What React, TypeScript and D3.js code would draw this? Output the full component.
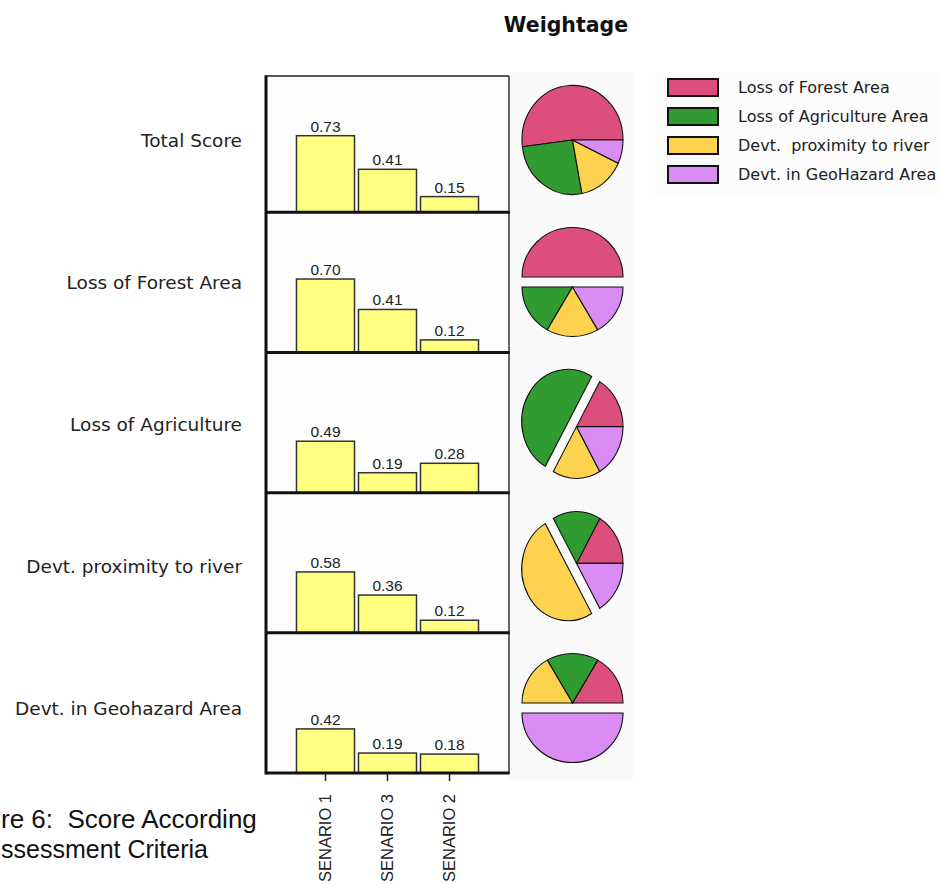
import React from "react";
import * as d3 from "d3";

// rows of the chart
const criteria = [
  "Total Score",
  "Loss of Forest Area",
  "Loss of Agriculture",
  "Devt. proximity to river",
  "Devt. in Geohazard Area",
];
const scenarios = ["SENARIO 1", "SENARIO 3", "SENARIO 2"];

// scores per scenario, one per row
const senario1 = [0.73, 0.7, 0.49, 0.58, 0.42];
const senario3 = [0.41, 0.41, 0.19, 0.36, 0.19];
const senario2 = [0.15, 0.12, 0.28, 0.12, 0.18];

// weights (pies)
const legendLabels = [
  "Loss of Forest Area",
  "Loss of Agriculture Area",
  "Devt.  proximity to river",
  "Devt. in GeoHazard Area",
];
const sliceColors = ["#dc4f7d", "#2f9b30", "#fdd24e", "#d98cf3"];
const totalWeights = [0.52, 0.26, 0.15, 0.07];
const forestWeights = [0.5, 1 / 6, 1 / 6, 1 / 6];
const agriWeights = [1 / 6, 0.5, 1 / 6, 1 / 6];
const riverWeights = [1 / 6, 1 / 6, 0.5, 1 / 6];
const geoWeights = [1 / 6, 1 / 6, 1 / 6, 0.5];
const explodedSlice = [-1, 0, 1, 2, 3];

const caption = ["re 6:  Score According", "ssessment Criteria"];

const sans = "'DejaVu Sans', Verdana, sans-serif";
const arial = "'Liberation Sans', Arial, sans-serif";

const pieRows = [totalWeights, forestWeights, agriWeights, riverWeights, geoWeights];
const scoreRows = criteria.map((c, i) => [senario1[i], senario3[i], senario2[i]]);

// pie laid out counter-clockwise from 3 o'clock, one slice pulled out
function layoutPie(values: number[], exploded: number) {
  const arcs = d3
    .pie<number>()
    .sort(null)
    .startAngle(Math.PI / 2)
    .endAngle(Math.PI / 2 - 2 * Math.PI)(values);
  const E = 0.2;
  let x0 = Infinity, x1 = -Infinity, y0 = Infinity, y1 = -Infinity;
  const slices = arcs.map((a, i) => {
    const m = (a.startAngle + a.endAngle) / 2;
    const off = i === exploded ? [E * Math.sin(m), -E * Math.cos(m)] : [0, 0];
    const pts: number[][] = [[0, 0]];
    for (let k = 0; k <= 60; k++) {
      const ang = a.startAngle + ((a.endAngle - a.startAngle) * k) / 60;
      pts.push([Math.sin(ang), -Math.cos(ang)]);
    }
    pts.forEach(([px, py]) => {
      x0 = Math.min(x0, px + off[0]);
      x1 = Math.max(x1, px + off[0]);
      y0 = Math.min(y0, py + off[1]);
      y1 = Math.max(y1, py + off[1]);
    });
    return { a, off, i };
  });
  return { slices, x0, x1, y0, y1 };
}

const arcGen = d3.arc<any>().innerRadius(0).outerRadius(1);

export default function App() {
  const width = 940;
  const height = 885;

  const plotLeft = 266;
  const plotRight = 509;
  const plotTop = 76;
  const plotBottom = 773;

  const rows = d3.scaleBand<string>().domain(criteria).range([72.2, plotBottom]);
  const labelRows = d3.scaleBand<string>().domain(criteria).range([69, 779]);
  const x = d3
    .scaleBand<string>()
    .domain(scenarios)
    .range([294.5, 480.5])
    .paddingInner(0.0645)
    .paddingOuter(0.032);
  const h = d3.scaleLinear().domain([0, 1]).range([0, 105]);
  const fmt = d3.format(".2f");

  const pieW = 101;
  const pieH = 109;
  const pieCx = 572.5;

  const legendY = d3.scaleBand<string>().domain(legendLabels).range([74, 190]);

  return (
    <svg
      width={width}
      height={height}
      style={{ position: "absolute", left: 0, top: 0, background: "#fff" }}
    >
      <rect x={0} y={0} width={width} height={height} fill="#fff" />

      {/* faint panels behind plot, pies and legend */}
      <rect x={plotLeft} y={plotTop} width={plotRight - plotLeft} height={plotBottom - plotTop} fill="#fdfdfd" />
      <rect x={plotRight} y={72} width={124} height={708} fill="#fafafa" />
      <rect x={655} y={72} width={285} height={122} fill="#fcfcfc" />

      <text
        x={566}
        y={31.5}
        textAnchor="middle"
        fontFamily={sans}
        fontWeight="bold"
        fontSize={20.5}
        fill="#111"
      >
        Weightage
      </text>

      {/* row labels */}
      {criteria.map((c) => (
        <text
          key={c}
          x={242}
          y={(labelRows(c) as number) + labelRows.bandwidth() / 2 + 6.5}
          textAnchor="end"
          fontFamily={sans}
          fontSize={18.5}
          fill="#222"
        >
          {c}
        </text>
      ))}

      {/* bars */}
      {criteria.map((c, r) => {
        const base = (rows(c) as number) + rows.bandwidth();
        return (
          <g key={c}>
            {scoreRows[r].map((v, j) => {
              const s = scenarios[j];
              const bx = x(s) as number;
              return (
                <g key={s}>
                  <rect
                    x={bx}
                    y={base - h(v)}
                    width={x.bandwidth()}
                    height={h(v)}
                    fill="#ffff80"
                    stroke="#333"
                    strokeWidth={1.5}
                  />
                  <text
                    x={bx + x.bandwidth() / 2}
                    y={base - h(v) - 4}
                    textAnchor="middle"
                    fontFamily={arial}
                    fontSize={15.5}
                    fill="#222"
                  >
                    {fmt(v)}
                  </text>
                </g>
              );
            })}
          </g>
        );
      })}

      {/* plot frame */}
      <line x1={plotLeft} x2={plotRight} y1={plotTop} y2={plotTop} stroke="#222" strokeWidth={1.5} />
      <line x1={plotRight} x2={plotRight} y1={plotTop} y2={plotBottom} stroke="#333" strokeWidth={1.5} />
      <line x1={plotLeft} x2={plotLeft} y1={plotTop - 0.7} y2={plotBottom + 1.5} stroke="#111" strokeWidth={3} />
      {criteria.map((c) => {
        const yy = (rows(c) as number) + rows.bandwidth();
        return (
          <line key={c} x1={plotLeft} x2={plotRight + 0.7} y1={yy} y2={yy} stroke="#111" strokeWidth={3} />
        );
      })}

      {/* x axis */}
      {scenarios.map((s) => {
        const cx = (x(s) as number) + x.bandwidth() / 2;
        return (
          <g key={s}>
            <line x1={cx} x2={cx} y1={plotBottom} y2={781} stroke="#222" strokeWidth={1.5} />
            <text
              transform={`translate(${cx},794) rotate(-90)`}
              textAnchor="end"
              dy="0.36em"
              fontFamily={arial}
              fontSize={16.5}
              fill="#222"
            >
              {s}
            </text>
          </g>
        );
      })}

      {/* pies */}
      {criteria.map((c, r) => {
        const cy = (labelRows(c) as number) + labelRows.bandwidth() / 2;
        const p = layoutPie(pieRows[r], explodedSlice[r]);
        const sx = pieW / (p.x1 - p.x0);
        const sy = pieH / (p.y1 - p.y0);
        const tx = pieCx - ((p.x0 + p.x1) / 2) * sx;
        const ty = cy - ((p.y0 + p.y1) / 2) * sy;
        return (
          <g key={c} transform={`translate(${tx},${ty}) scale(${sx},${sy})`}>
            {p.slices.map((s) => (
              <path
                key={s.i}
                d={arcGen(s.a) as string}
                transform={`translate(${s.off[0]},${s.off[1]})`}
                fill={sliceColors[s.i]}
                stroke="#111"
                strokeWidth={1.1}
                vectorEffect="non-scaling-stroke"
              />
            ))}
          </g>
        );
      })}

      {/* legend */}
      {legendLabels.map((l, i) => {
        const ly = legendY(l) as number;
        return (
          <g key={l}>
            <rect
              x={668}
              y={ly + 5}
              width={50}
              height={17}
              fill={sliceColors[i]}
              stroke="#111"
              strokeWidth={2}
            />
            <text
              x={738}
              y={ly + 19}
              fontFamily={sans}
              fontSize={16}
              fill="#222"
              style={{ whiteSpace: "pre" }}
            >
              {l}
            </text>
          </g>
        );
      })}

      {/* caption, starting at the left edge */}
      <text x={1} y={828} fontFamily={arial} fontSize={26} fill="#111" style={{ whiteSpace: "pre" }}>
        {caption[0]}
      </text>
      <text x={1} y={858} fontFamily={arial} fontSize={25} fill="#111">
        {caption[1]}
      </text>
    </svg>
  );
}
